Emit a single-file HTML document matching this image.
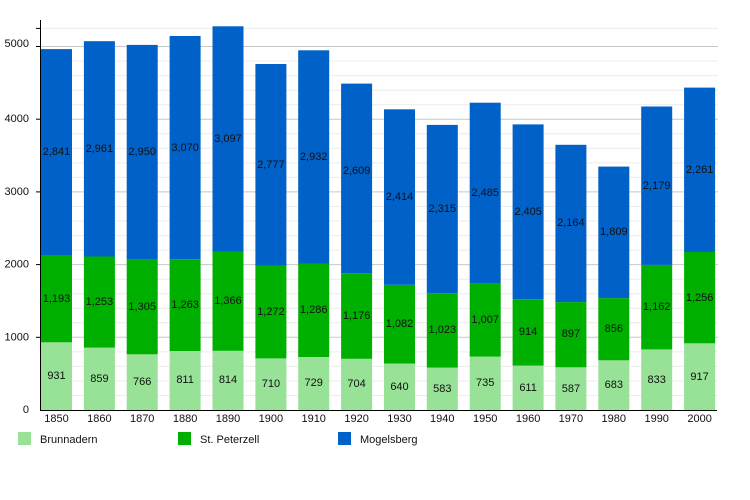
<!DOCTYPE html>
<html><head><meta charset="utf-8"><style>body{margin:0;background:#fff}svg{display:block}</style></head><body>
<svg width="750" height="500" xmlns="http://www.w3.org/2000/svg" font-family="Liberation Sans, sans-serif" font-size="11">
<g stroke="#ececec" stroke-width="1">
<line x1="40" x2="718" y1="395.5" y2="395.5"/><line x1="40" x2="718" y1="381" y2="381"/><line x1="40" x2="718" y1="366.4" y2="366.4"/><line x1="40" x2="718" y1="351.9" y2="351.9"/>
<line x1="40" x2="718" y1="322.8" y2="322.8"/><line x1="40" x2="718" y1="308.3" y2="308.3"/><line x1="40" x2="718" y1="293.7" y2="293.7"/><line x1="40" x2="718" y1="279.2" y2="279.2"/>
<line x1="40" x2="718" y1="250.1" y2="250.1"/><line x1="40" x2="718" y1="235.6" y2="235.6"/><line x1="40" x2="718" y1="221" y2="221"/><line x1="40" x2="718" y1="206.5" y2="206.5"/>
<line x1="40" x2="718" y1="177.4" y2="177.4"/><line x1="40" x2="718" y1="162.9" y2="162.9"/><line x1="40" x2="718" y1="148.3" y2="148.3"/><line x1="40" x2="718" y1="133.8" y2="133.8"/>
<line x1="40" x2="718" y1="104.7" y2="104.7"/><line x1="40" x2="718" y1="90.2" y2="90.2"/><line x1="40" x2="718" y1="75.6" y2="75.6"/><line x1="40" x2="718" y1="61.1" y2="61.1"/>
<line x1="40" x2="718" y1="28.4" y2="28.4"/>
</g>
<g stroke="#c8c8c8" stroke-width="1">
<line x1="40" x2="718" y1="337.3" y2="337.3"/><line x1="40" x2="718" y1="264.6" y2="264.6"/><line x1="40" x2="718" y1="191.9" y2="191.9"/><line x1="40" x2="718" y1="119.2" y2="119.2"/><line x1="40" x2="718" y1="46.5" y2="46.5"/>
</g>
<g fill="#98e298">
<rect x="41" y="342.3" width="31" height="67.7"/><rect x="83.9" y="347.6" width="31" height="62.4"/><rect x="126.7" y="354.3" width="31" height="55.7"/><rect x="169.6" y="351" width="31" height="59"/><rect x="212.5" y="350.8" width="31" height="59.2"/><rect x="255.4" y="358.4" width="31" height="51.6"/><rect x="298.2" y="357" width="31" height="53"/><rect x="341.1" y="358.8" width="31" height="51.2"/><rect x="384" y="363.5" width="31" height="46.5"/><rect x="426.8" y="367.6" width="31" height="42.4"/><rect x="469.7" y="356.6" width="31" height="53.4"/><rect x="512.6" y="365.6" width="31" height="44.4"/><rect x="555.4" y="367.3" width="31" height="42.7"/><rect x="598.3" y="360.3" width="31" height="49.7"/><rect x="641.2" y="349.4" width="31" height="60.6"/><rect x="684.1" y="343.3" width="31" height="66.7"/>
</g>
<g fill="#00b000">
<rect x="41" y="255.6" width="31" height="86.7"/><rect x="83.9" y="256.5" width="31" height="91.1"/><rect x="126.7" y="259.4" width="31" height="94.9"/><rect x="169.6" y="259.2" width="31" height="91.8"/><rect x="212.5" y="251.5" width="31" height="99.3"/><rect x="255.4" y="265.9" width="31" height="92.5"/><rect x="298.2" y="263.5" width="31" height="93.5"/><rect x="341.1" y="273.3" width="31" height="85.5"/><rect x="384" y="284.8" width="31" height="78.7"/><rect x="426.8" y="293.2" width="31" height="74.4"/><rect x="469.7" y="283.4" width="31" height="73.2"/><rect x="512.6" y="299.2" width="31" height="66.4"/><rect x="555.4" y="302.1" width="31" height="65.2"/><rect x="598.3" y="298.1" width="31" height="62.2"/><rect x="641.2" y="264.9" width="31" height="84.5"/><rect x="684.1" y="252" width="31" height="91.3"/>
</g>
<g fill="#0062c8">
<rect x="41" y="49.1" width="31" height="206.5"/><rect x="83.9" y="41.2" width="31" height="215.3"/><rect x="126.7" y="44.9" width="31" height="214.5"/><rect x="169.6" y="36" width="31" height="223.2"/><rect x="212.5" y="26.3" width="31" height="225.2"/><rect x="255.4" y="64" width="31" height="201.9"/><rect x="298.2" y="50.3" width="31" height="213.2"/><rect x="341.1" y="83.6" width="31" height="189.7"/><rect x="384" y="109.3" width="31" height="175.5"/><rect x="426.8" y="124.9" width="31" height="168.3"/><rect x="469.7" y="102.7" width="31" height="180.7"/><rect x="512.6" y="124.4" width="31" height="174.8"/><rect x="555.4" y="144.8" width="31" height="157.3"/><rect x="598.3" y="166.6" width="31" height="131.5"/><rect x="641.2" y="106.5" width="31" height="158.4"/><rect x="684.1" y="87.6" width="31" height="164.4"/>
</g>
<g fill="#111" text-anchor="middle" dominant-baseline="central">
<text x="56.5" y="376">931</text><text x="99.4" y="379">859</text><text x="142.2" y="382">766</text><text x="185.1" y="380">811</text><text x="228" y="380">814</text><text x="270.9" y="384">710</text><text x="313.7" y="383">729</text><text x="356.6" y="384">704</text><text x="399.5" y="387">640</text><text x="442.3" y="389">583</text><text x="485.2" y="383">735</text><text x="528.1" y="388">611</text><text x="570.9" y="389">587</text><text x="613.8" y="385">683</text><text x="656.7" y="380">833</text><text x="699.6" y="377">917</text>
<text x="56.5" y="299">1,193</text><text x="99.4" y="302">1,253</text><text x="142.2" y="307">1,305</text><text x="185.1" y="305">1,263</text><text x="228" y="301">1,366</text><text x="270.9" y="312">1,272</text><text x="313.7" y="310">1,286</text><text x="356.6" y="316">1,176</text><text x="399.5" y="324">1,082</text><text x="442.3" y="330">1,023</text><text x="485.2" y="320">1,007</text><text x="528.1" y="332">914</text><text x="570.9" y="334">897</text><text x="613.8" y="329">856</text><text x="656.7" y="307">1,162</text><text x="699.6" y="298">1,256</text>
<text x="56.5" y="152">2,841</text><text x="99.4" y="149">2,961</text><text x="142.2" y="152">2,950</text><text x="185.1" y="148">3,070</text><text x="228" y="139">3,097</text><text x="270.9" y="165">2,777</text><text x="313.7" y="157">2,932</text><text x="356.6" y="171">2,609</text><text x="399.5" y="197">2,414</text><text x="442.3" y="209">2,315</text><text x="485.2" y="193">2,485</text><text x="528.1" y="212">2,405</text><text x="570.9" y="223">2,164</text><text x="613.8" y="232">1,809</text><text x="656.7" y="186">2,179</text><text x="699.6" y="170">2,261</text>
</g>
<g stroke="#000" stroke-width="1">
<line x1="40.5" y1="20" x2="40.5" y2="410.5"/><line x1="40" y1="410.5" x2="717" y2="410.5"/>
<line x1="36" x2="40" y1="337.3" y2="337.3"/><line x1="36" x2="40" y1="264.6" y2="264.6"/><line x1="36" x2="40" y1="191.9" y2="191.9"/><line x1="36" x2="40" y1="119.2" y2="119.2"/><line x1="36" x2="40" y1="46.5" y2="46.5"/><line x1="36" x2="40" y1="28.4" y2="28.4"/>
</g>
<g fill="#111" text-anchor="end" dominant-baseline="central">
<text x="29" y="410">0</text><text x="29" y="337.3">1000</text><text x="29" y="264.6">2000</text><text x="29" y="191.9">3000</text><text x="29" y="119.2">4000</text><text x="29" y="44">5000</text>
</g>
<g fill="#111" text-anchor="middle">
<text x="56.5" y="422">1850</text><text x="99.4" y="422">1860</text><text x="142.2" y="422">1870</text><text x="185.1" y="422">1880</text><text x="228" y="422">1890</text><text x="270.9" y="422">1900</text><text x="313.7" y="422">1910</text><text x="356.6" y="422">1920</text><text x="399.5" y="422">1930</text><text x="442.3" y="422">1940</text><text x="485.2" y="422">1950</text><text x="528.1" y="422">1960</text><text x="570.9" y="422">1970</text><text x="613.8" y="422">1980</text><text x="656.7" y="422">1990</text><text x="699.6" y="422">2000</text>
</g>
<rect x="18" y="432" width="13" height="13" fill="#98e298"/><text x="40" y="443" fill="#111">Brunnadern</text>
<rect x="178" y="432" width="13" height="13" fill="#00b000"/><text x="200" y="443" fill="#111">St. Peterzell</text>
<rect x="338" y="432" width="13" height="13" fill="#0062c8"/><text x="360" y="443" fill="#111">Mogelsberg</text>
</svg>
</body></html>
